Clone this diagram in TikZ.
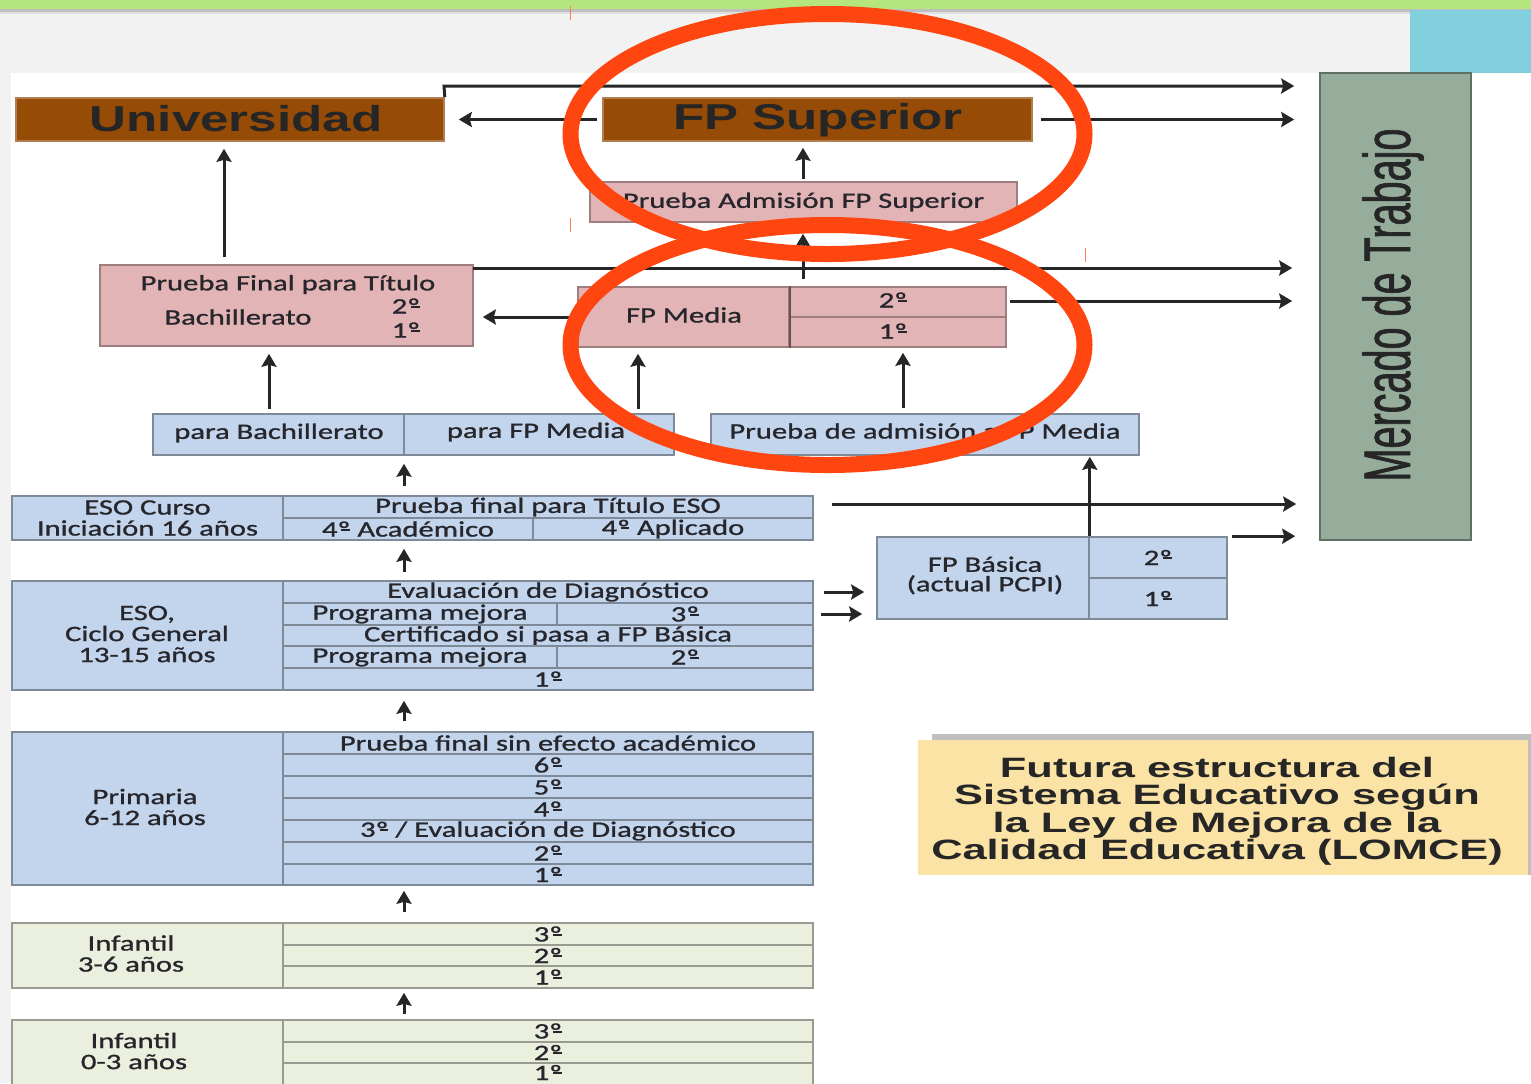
\documentclass[tikz,border=0pt]{standalone}
\usepackage{fontspec}
\setmainfont[FakeStretch=1.39,FakeBold=1.1]{Carlito}
\newfontfamily\hdfont[FakeStretch=1.42]{Liberation Sans}
\newfontfamily\ttlfont[FakeStretch=1.55]{Liberation Sans}
\newfontfamily\mktfont[FakeStretch=0.6,FakeBold=1.0]{Liberation Sans}
\usetikzlibrary{arrows.meta,calc}
\definecolor{cblue}{HTML}{C3D5EC}
\definecolor{cpink}{HTML}{E2B4B5}
\definecolor{cgreen}{HTML}{EAF0DD}
\definecolor{cbrown}{HTML}{964B06}
\definecolor{cmkt}{HTML}{96AD9C}
\definecolor{cttl}{HTML}{FBE3A5}
\definecolor{cred}{HTML}{FF4510}
\definecolor{ctxt}{HTML}{26262C}
\definecolor{ctop}{HTML}{B5E67E}
\definecolor{cteal}{HTML}{82D0DE}
\newcommand{\bx}[7]{\node[#6,minimum width={(#4-#2)*0.5pt},minimum height={(#5-#3)*0.5pt}] (#1) at ({(#2+#4)/2},{(#3+#5)/2}) {#7};}
\newcommand{\ordm}{º\llap{\rule[0.27em]{0.38em}{0.075em}\hspace{0.03em}}}
\tikzset{
  cellbase/.style={draw,line width=0.8pt,inner sep=0pt,align=center,text=ctxt,font=\fontsize{11}{10.5}\selectfont},
  cellb/.style={cellbase,fill=cblue,draw=black!35!cblue},
  cellp/.style={cellbase,fill=cpink,draw=black!30!cpink},
  cellg/.style={cellbase,fill=cgreen,draw=black!35!cgreen},
  cellbr/.style={cellbase,fill=cbrown,draw=black!5!cbrown!70!white,font=\hdfont\bfseries\fontsize{18}{20}\selectfont},
  lbl/.style={inner sep=0pt,text=ctxt,align=center,font=\fontsize{11}{10.5}\selectfont},
  hdlbl/.style={inner sep=0pt,text=black!85,font=\hdfont\bfseries\fontsize{18}{20}\selectfont},
  arr/.style={-{Stealth[length=6.5pt,width=7.5pt,inset=1pt]},line width=1.5pt,draw=black!85},
  hoop/.style={draw=cred,line width=8pt},
  tick/.style={draw=cred!70!white,line width=0.4pt}
}
\begin{document}
\begin{tikzpicture}[x=0.5pt,y=-0.5pt]
\useasboundingbox (0,0) rectangle (1531,1083);
\clip (0,0) rectangle (1531,1083);
% slide background
\fill[white] (0,0) rectangle (1531,1083);
\fill[black!5] (0,9) rectangle (1410,73);
\fill[black!5] (0,73) rectangle (11,1083);
\fill[black!25] (0,9) rectangle (1531,12);
\fill[black!12] (0,12) rectangle (1531,14);
\fill[ctop] (0,0) rectangle (1531,9);
\fill[cteal] (1410,10) rectangle (1531,73);
\draw[tick] (570,6) -- (570,20);
\draw[tick] (570,218) -- (570,232);
\draw[tick] (1085,248) -- (1085,262);
% top level
\bx{univ}{16}{98}{444}{141}{cellbr}{}
\node[hdlbl] (univt) at (236,119) {Universidad};
\bx{fpsup}{603}{98}{1032}{141}{cellbr}{}
\node[hdlbl] (fpsupt) at (818,120) {FP Superior};
\bx{adm}{590}{182}{1017}{222}{cellp}{Prueba Admisión FP Superior}
\bx{pfinal}{100}{265}{473}{346}{cellp}{}
\node[lbl] (pfa) at (288,284.5) {Prueba Final para Título};
\node[lbl] (pfb) at (238,317) {Bachillerato};
\node[lbl] (pfc) at (406,306) {2\ordm};
\node[lbl] (pfd) at (406,330) {1\ordm};
\bx{fpm}{578}{287}{789}{347}{cellp}{}
\node[lbl] (fpmt) at (684,315) {FP Media};
\bx{fp2}{789}{287}{1006}{317}{cellp}{}
\bx{fp1}{789}{317}{1006}{347}{cellp}{}
\node[lbl] (fp2t) at (893,300) {2\ordm};
\node[lbl] (fp1t) at (893,331) {1\ordm};
\draw[line width=1.3pt,draw=black!55!cpink] (fpm.north east) -- (fpm.south east);
\bx{pbach}{153}{414}{404}{455}{cellb}{}
\node[lbl] (pbacht) at (279,433) {para Bachillerato};
\bx{pfpm}{404}{414}{674}{455}{cellb}{}
\node[lbl] (pfpmt) at (536,432) {para FP Media};
\bx{admfp}{711}{414}{1139}{455}{cellb}{}
\node[lbl] (admfpt) at (925,431) {Prueba de admisión a FP Media};
% ESO curso
\bx{ecur}{12}{496}{283}{540}{cellb}{ESO Curso\\Iniciación 16 años}
\bx{etit}{283}{496}{813}{518}{cellb}{Prueba final para Título ESO}
\bx{eaca}{283}{518}{533}{540}{cellb}{4\ordm{} Académico}
\bx{eapl}{533}{518}{813}{540}{cellb}{4\ordm{} Aplicado}
% ESO ciclo
\bx{ecic}{12}{581}{283}{690}{cellb}{}
\node[lbl] (ecict) at (147,634) {ESO,\\Ciclo General\\13-15 años};
\bx{eval}{283}{581}{813}{603}{cellb}{Evaluación de Diagnóstico}
\bx{pm3}{283}{603}{557}{625}{cellb}{Programa mejora}
\bx{e3}{557}{603}{813}{625}{cellb}{3\ordm}
\bx{cert}{283}{625}{813}{646}{cellb}{Certificado si pasa a FP Básica}
\bx{pm2}{283}{646}{557}{668}{cellb}{Programa mejora}
\bx{e2}{557}{646}{813}{668}{cellb}{2\ordm}
\bx{e1}{283}{668}{813}{690}{cellb}{1\ordm}
% Primaria
\bx{prim}{12}{732}{283}{885}{cellb}{}
\node[lbl] (primt) at (145,807) {Primaria\\6-12 años};
\bx{psin}{283}{732}{813}{754}{cellb}{Prueba final sin efecto académico}
\bx{p6}{283}{754}{813}{776}{cellb}{6\ordm}
\bx{p5}{283}{776}{813}{798}{cellb}{5\ordm}
\bx{p4}{283}{798}{813}{820}{cellb}{4\ordm}
\bx{p3}{283}{820}{813}{842}{cellb}{3\ordm{} / Evaluación de Diagnóstico}
\bx{p2}{283}{842}{813}{864}{cellb}{2\ordm}
\bx{p1}{283}{864}{813}{885}{cellb}{1\ordm}
% Infantil 3-6
\bx{ia}{12}{923}{283}{988}{cellg}{}
\node[lbl] (iat) at (131,953.5) {Infantil\\3-6 años};
\bx{ia3}{283}{923}{813}{945}{cellg}{3\ordm}
\bx{ia2}{283}{945}{813}{966}{cellg}{2\ordm}
\bx{ia1}{283}{966}{813}{988}{cellg}{1\ordm}
% Infantil 0-3
\bx{ib}{12}{1020}{283}{1103}{cellg}{}
\node[lbl] (ibt) at (134,1051) {Infantil\\0-3 años};
\bx{ib3}{283}{1020}{813}{1042}{cellg}{3\ordm}
\bx{ib2}{283}{1042}{813}{1063}{cellg}{2\ordm}
\bx{ib1}{283}{1063}{813}{1085}{cellg}{}
\node[lbl] (ib1t) at (548,1072.5) {1\ordm};
% FP Basica
\bx{fpb}{877}{537}{1089}{619}{cellb}{}
\node[lbl] (fpbt) at (985,575.5) {FP Básica\\[-0.75pt](actual PCPI)};
\bx{fpb2}{1089}{537}{1227}{578}{cellb}{2\ordm}
\bx{fpb1}{1089}{578}{1227}{619}{cellb}{1\ordm}
% Mercado
\bx{market}{1320}{73}{1471}{540}{cellbase,fill=cmkt,draw=black!35!cmkt}{}
\node[inner sep=0pt,rotate=90,text=black!85,font=\mktfont\fontsize{33}{36}\selectfont] (mkt) at (1393,305) {Mercado de Trabajo};
% Title
\fill[black!25] (932,734) rectangle (1531,741);
\fill[black!25] (1527,734) rectangle (1531,875);
\bx{title}{918}{740}{1528}{875}{inner sep=0pt,fill=cttl}{}
\node[inner sep=0pt,align=center,text=black!85,font=\ttlfont\bfseries\fontsize{14}{13.75}\selectfont] (titlet) at (1217,811) {Futura estructura del\\Sistema Educativo según\\la Ley de Mejora de la\\Calidad Educativa (LOMCE)};
% Connectors
\coordinate (topline) at (444,86);
\coordinate (pfline) at (473,268);
\coordinate (fmline) at (1006,301);
\coordinate (eline) at (813,504);
\draw[arr,shorten >=12.5pt] (univ.north east) -- (topline) -- (topline -| market.west);
\draw[arr,shorten <=2.5pt,shorten >=7pt] (fpsup.west) -- (univ.east);
\draw[arr,shorten <=4pt,shorten >=12.5pt] (fpsup.east) -- (fpsup.east -| market.west);
\draw[arr,shorten <=1pt,shorten >=3pt] (803,0 |- adm.north) -- (803,0 |- fpsup.south);
\draw[arr,shorten <=3.5pt,shorten >=5.5pt] (803,0 |- fp2.north) -- (803,0 |- adm.south);
\draw[arr,shorten <=3.5pt,shorten >=3.5pt] (224,0 |- pfinal.north) -- (224,0 |- univ.south);
\draw[arr,shorten >=13.5pt] (pfline) -- (pfline -| market.west);
\draw[arr,shorten <=2pt,shorten >=13.5pt] (fmline) -- (fmline -| market.west);
\draw[arr,shorten <=4pt,shorten >=4.5pt] (fpm.west) -- (fpm.west -| pfinal.east);
\draw[arr,shorten <=2pt,shorten >=3.5pt] (269,0 |- pbach.north) -- (269,0 |- pfinal.south);
\draw[arr,shorten <=2pt,shorten >=3pt] (638,0 |- pfpm.north) -- (638,0 |- fpm.south);
\draw[arr,shorten <=2.5pt,shorten >=2.5pt] (903,0 |- admfp.north) -- (903,0 |- fp1.south);
\draw[arr,shorten >=0.5pt] (fpb.north east) -- (fpb.north east |- admfp.south);
\draw[arr,shorten <=4.5pt,shorten >=4pt] (404,0 |- ecur.north) -- (404,0 |- pfpm.south);
\draw[arr,shorten <=4pt,shorten >=4pt] (404,0 |- eval.north) -- (404,0 |- eaca.south);
\draw[arr,shorten <=5pt,shorten >=5pt] (404,0 |- psin.north) -- (404,0 |- e1.south);
\draw[arr,shorten <=5pt,shorten >=2.5pt] (404,0 |- ia3.north) -- (404,0 |- p1.south);
\draw[arr,shorten <=2.5pt,shorten >=2pt] (404,0 |- ib3.north) -- (404,0 |- ia1.south);
\draw[arr,shorten <=9.5pt,shorten >=11.5pt] (eline) -- (eline -| market.west);
\draw[arr,shorten <=2pt,shorten >=12pt] (fpb2.north east) -- (fpb2.north east -| market.west);
\draw[arr,shorten <=5pt,shorten >=6pt] (eval.east) -- (eval.east -| fpb.west);
\draw[arr,shorten <=3.5pt,shorten >=7pt] (e3.east) -- (e3.east -| fpb.west);
% Highlight rings
\draw[hoop] (827.5,134) ellipse [x radius=257,y radius=120];
\draw[hoop] (827.5,345) ellipse [x radius=257,y radius=120];
\end{tikzpicture}
\end{document}
